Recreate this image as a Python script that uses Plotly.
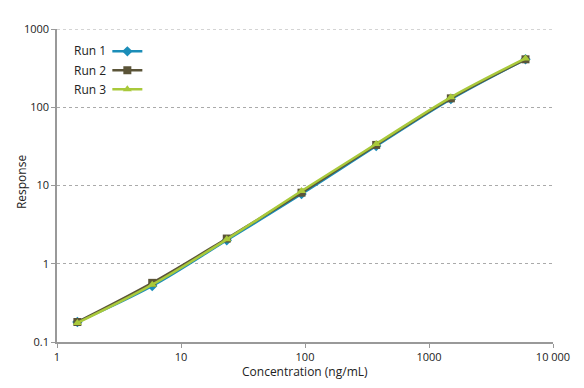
import plotly.graph_objects as go

concentration = [1.46, 5.86, 23.4, 93.75, 375, 1500, 6000]
run1 = [0.18, 0.52, 2.0, 7.8, 32, 127, 410]
run2 = [0.18, 0.57, 2.1, 8.1, 33, 130, 410]
run3 = [0.175, 0.54, 2.05, 8.5, 34, 134, 420]
series_names = ["Run 1", "Run 2", "Run 3"]

series = [
    (series_names[0], run1, "#1b8db8", "diamond"),
    (series_names[1], run2, "#5b5438", "square"),
    (series_names[2], run3, "#a9c93b", "triangle-up"),
]

fig = go.Figure()
for name, vals, color, sym in series:
    fig.add_trace(go.Scatter(
        x=concentration, y=vals, name=name, mode="lines+markers",
        line=dict(color=color, width=2.5, shape="spline"),
        marker=dict(symbol=sym, size=8, color=color),
    ))

# legend labels drawn to the left of the legend glyphs (as in the reference)
label_y = [0.930, 0.869, 0.808]
for name, yy in zip(series_names, label_y):
    fig.add_annotation(text=name, xref="paper", yref="paper", x=0.103, y=yy,
                       xanchor="right", yanchor="middle", showarrow=False,
                       font=dict(size=12, color="#222"))

# axis titles
fig.add_annotation(text="Response", xref="paper", yref="paper", x=-0.0726, y=0.514,
                   xanchor="center", yanchor="middle", textangle=-90, showarrow=False,
                   font=dict(size=12, color="#222"))
fig.add_annotation(text="Concentration (ng/mL)", xref="paper", yref="paper", x=0.5, y=-0.0927,
                   xanchor="center", yanchor="middle", showarrow=False,
                   font=dict(size=12, color="#222"))

# top gridline at 1000 (edge gridline is clipped by plotly)
fig.add_shape(type="line", xref="paper", yref="y", x0=0, x1=1, y0=1000, y1=1000,
              line=dict(color="#aaa", width=1, dash="dot"))

font = "Open Sans, Noto Sans, sans-serif"
fig.update_layout(
    width=584, height=388,
    margin=dict(l=49, r=39, t=21, b=54, autoexpand=False),
    paper_bgcolor="white", plot_bgcolor="white",
    font=dict(family=font, size=11, color="#222"),
    legend=dict(x=0.1015, y=0.975, xanchor="left", yanchor="top",
                bgcolor="rgba(0,0,0,0)", font=dict(size=1, color="rgba(0,0,0,0)"),
                itemwidth=30, tracegroupgap=0),
    showlegend=True,
)
fig.update_xaxes(
    type="log", range=[0, 4], automargin=False,
    tickvals=[1, 10, 100, 1000, 10000],
    ticktext=["1", "10", "100", "1000", "10 000"],
    showline=True, linecolor="#999", linewidth=1.5,
    ticks="outside", tickcolor="#999", ticklen=4,
    showgrid=False, zeroline=False,
    tickfont=dict(size=11, color="#222"),
)
fig.update_yaxes(
    type="log", range=[-1, 3], automargin=False,
    tickvals=[0.1, 1, 10, 100, 1000],
    ticktext=["0.1", "1", "10", "100", "1000"],
    showline=True, linecolor="#999", linewidth=1.5,
    ticks="outside", tickcolor="#999", ticklen=4,
    showgrid=True, gridcolor="#aaa", griddash="dot", gridwidth=1,
    zeroline=False,
    tickfont=dict(size=11, color="#222"),
)
fig.write_html("out.html")
